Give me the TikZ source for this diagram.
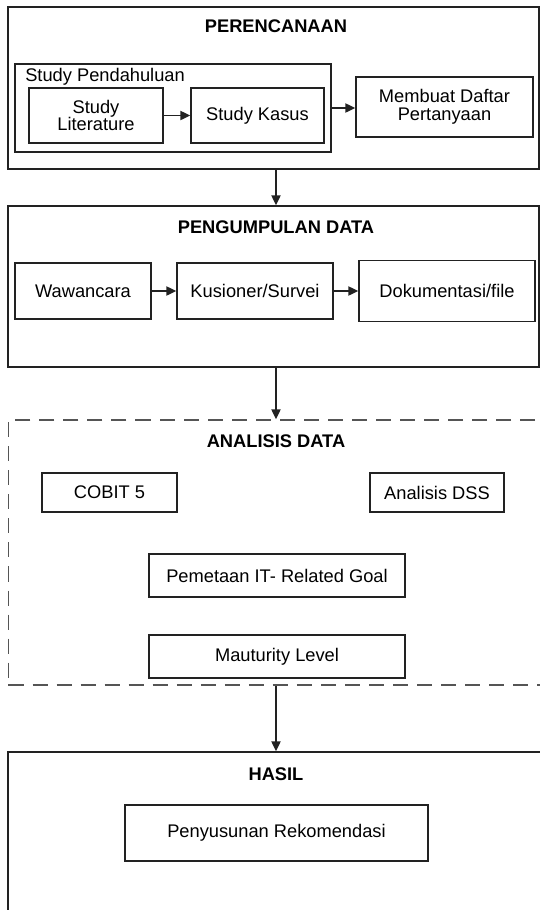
\documentclass[tikz,border=0pt]{standalone}
\usepackage{fontspec}
\setmainfont{Liberation Sans}
\usetikzlibrary{arrows.meta, calc, positioning}
\definecolor{garis}{HTML}{222222}
\definecolor{putus}{HTML}{555555}

\begin{document}
\begin{tikzpicture}[x=0.25mm, y=-0.25mm,
		font=\fontsize{13}{12.5}\selectfont,
		blok/.style={draw=garis, line width=1.1pt, inner sep=0pt, align=center},
		fase/.style={draw=garis, line width=1.1pt, inner sep=0pt},
		judul/.style={font=\fontsize{13}{12.5}\selectfont\bfseries},
		panah/.style={draw=garis, line width=1.1pt, -{Triangle[length=7pt, width=6.5pt]}}]
		\useasboundingbox (0, 0) rectangle (540, 910);
		
		% tahap-tahap
		\node[fase, minimum width=132.75mm, minimum height=40.5mm] (plan) at (273.5, 88) {};
		\node[fase, minimum width=132.75mm, minimum height=40.25mm] (collect) at (273.5, 286.5) {};
		\node[fase, draw=putus, dash pattern=on 10.7pt off 6.4pt, minimum width=134.875mm, minimum height=66.25mm] (analysis) at (278.25, 552.5) {};
		\node[fase, minimum width=135mm, minimum height=40.75mm] (result) at (278, 833.5) {};
		
		\node[judul] (t1) at (276, 26) {PERENCANAAN};
		\node[judul] (t2) at (276, 227) {PENGUMPULAN DATA};
		\node[judul] (t3) at (276, 441) {ANALISIS DATA};
		\node[judul] (t4) at (276, 774) {HASIL};
		
		% perencanaan
		\node[fase, minimum width=79mm, minimum height=22mm] (pend) at (173, 108) {};
		\node[anchor=west, inner sep=0pt] (pendlabel) at (25, 77) {Study Pendahuluan};
		\node[blok, minimum width=33.5mm, minimum height=13.75mm] (lit) at (96, 115.5) {Study\\Literature};
		\node[blok, minimum width=33.25mm, minimum height=13.75mm] (kasus) at (257.5, 115.5) {Study Kasus};
		\node[blok, minimum width=44.25mm, minimum height=15mm] (daftar) at (444.5, 107) {Membuat Daftar\\Pertanyaan};
		\draw[panah] (lit) -- (kasus);
		\draw[panah] (pend.east) -- (pend.east -| daftar.west);
		
		% pengumpulan data
		\node[blok, minimum width=34mm, minimum height=14mm] (wawan) at (83, 291) {Wawancara};
		\node[blok, minimum width=39mm, minimum height=14mm] (kusion) at (255, 291) {Kusioner/Survei};
		\node[blok, minimum width=44mm, minimum height=15.25mm] (dokum) at (447, 291) {Dokumentasi/file};
		\draw[panah] (wawan) -- (kusion);
		\draw[panah] (kusion) -- (dokum);
		
		% analisis data
		\node[blok, minimum width=33.75mm, minimum height=9.75mm] (cobit) at (109.5, 492.5) {COBIT 5};
		\node[blok, minimum width=33.5mm, minimum height=9.75mm] (dss) at (437, 492.5) {Analisis DSS};
		\node[blok, minimum width=64mm, minimum height=10.75mm] (goal) at (277, 575.5) {Pemetaan IT- Related Goal};
		\node[blok, minimum width=64mm, minimum height=10.75mm] (level) at (277, 656.5) {Mauturity Level};
		
		% hasil
		\node[blok, minimum width=75.75mm, minimum height=14mm] (rekom) at (276.5, 833) {Penyusunan Rekomendasi};
		
		\draw[panah] (t1 |- plan.south) -- (t1 |- collect.north);
		\draw[panah] (t2 |- collect.south) -- (t2 |- analysis.north);
		\draw[panah] (t3 |- analysis.south) -- (t3 |- result.north);
		
\end{tikzpicture}
\end{document}
